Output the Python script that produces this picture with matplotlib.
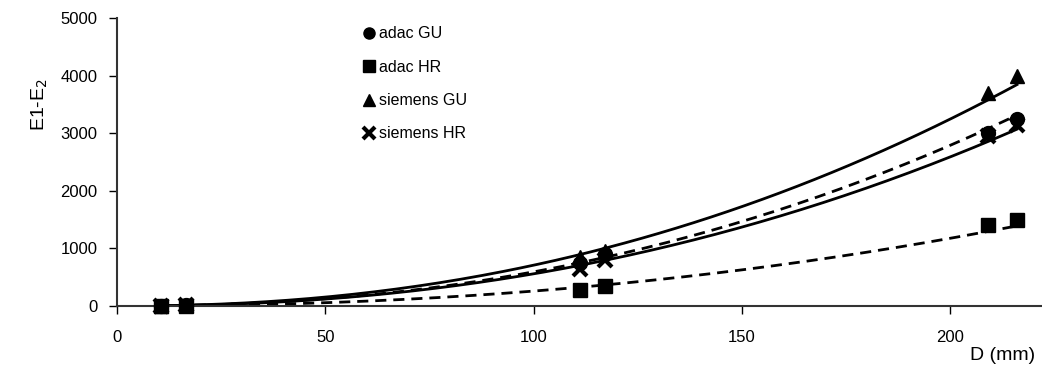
import numpy as np
import matplotlib
matplotlib.use("Agg")
import matplotlib.pyplot as plt
from matplotlib.lines import Line2D

plt.rcParams['font.family'] = ['Liberation Sans', 'DejaVu Sans']

# diameters (mm) where the measurements were taken
d = [10.5, 16.5, 111, 117, 209, 216]

adac_gu = [4, 10, 750, 900, 3000, 3250]
adac_hr = [2, 5, 280, 350, 1400, 1500]
siemens_gu = [5, 14, 850, 950, 3700, 4000]
siemens_hr = [4, 10, 650, 800, 2950, 3150]

series = [
    ("adac GU", adac_gu, "o", "--"),
    ("adac HR", adac_hr, "s", "--"),
    ("siemens GU", siemens_gu, "^", "-"),
    ("siemens HR", siemens_hr, "x", "-"),
]

yticks = [0, 1000, 2000, 3000, 4000, 5000]
xticks = [0, 50, 100, 150, 200]

fig = plt.figure(figsize=(10.42, 3.74), dpi=100)
ax = fig.add_axes([117 / 1042, 68 / 374, 925 / 1042, 288 / 374])

xs = np.linspace(10, 216, 200)
handles = []
for name, vals, mk, ls in series:
    # power trend line like the spreadsheet one
    b, loga = np.polyfit(np.log(d), np.log(vals), 1)
    ax.plot(xs, np.exp(loga) * xs ** b, color="black", lw=2, ls=ls,
            dashes=(4, 2.5) if ls == "--" else (None, None))
    ax.plot(d, vals, ls="none", marker=mk, color="black", ms=10,
            mew=3 if mk == "x" else 1, zorder=4 if mk == "s" else 3,
            clip_on=False)
    handles.append(Line2D([], [], ls="none", marker=mk, color="black",
                          ms=8, mew=3 if mk == "x" else 1, label=name))

ax.set_xlim(0, 222)
ax.set_ylim(0, 5000)
ax.set_xticks(xticks)
ax.set_yticks(yticks)
ax.tick_params(direction="out", length=6, width=1, labelsize=12)
ax.tick_params(axis="x", pad=11)
ax.tick_params(axis="y", pad=8)
for s in ["top", "right"]:
    ax.spines[s].set_visible(False)
for s in ["left", "bottom"]:
    ax.spines[s].set_color("#333333")
    ax.spines[s].set_linewidth(1.5)

fig.text(40 / 1042, 1 - 105 / 374, "E1-E$_2$", rotation=90, fontsize=14,
         ha="center", va="center")
fig.text(1035 / 1042, 1 - 355 / 374, "D (mm)", fontsize=14,
         ha="right", va="center")

fig.legend(handles=handles, loc="upper left",
           bbox_to_anchor=(355 / 1042, 1 - 20 / 374), frameon=False,
           fontsize=11.5, labelspacing=1.15, handletextpad=0.1,
           handlelength=1.0, borderaxespad=0)

fig.savefig("out.png", dpi=100)
